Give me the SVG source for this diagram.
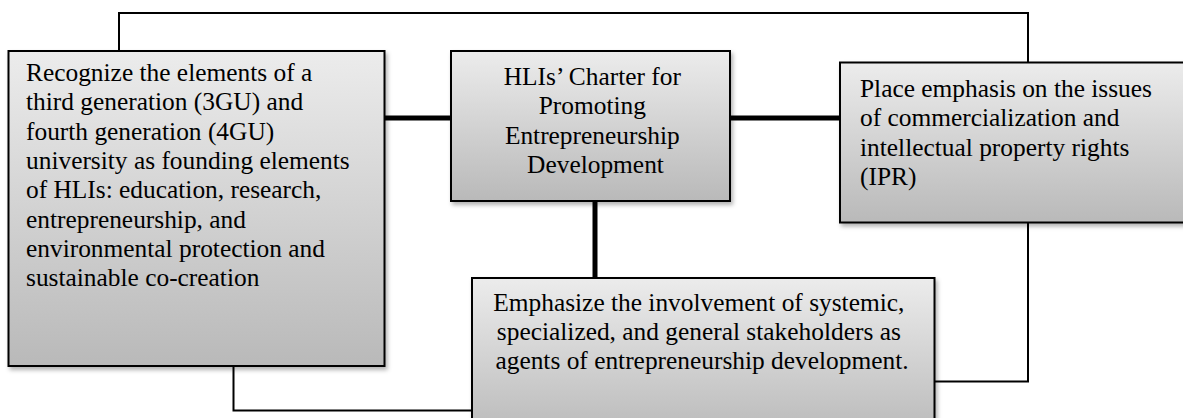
<svg xmlns="http://www.w3.org/2000/svg" width="1183" height="418" viewBox="0 0 1183 418">
<defs>
<linearGradient id="g" x1="0" y1="0" x2="0" y2="1">
<stop offset="0" stop-color="#ececec"/>
<stop offset="1" stop-color="#b9b9b9"/>
</linearGradient>
<filter id="sh" x="-10%" y="-10%" width="130%" height="130%">
<feDropShadow dx="2" dy="3" stdDeviation="2" flood-color="#000" flood-opacity="0.3"/>
</filter>
</defs>
<style>
.box{fill:url(#g);stroke:#000;stroke-width:2;filter:url(#sh)}
.t{font-family:"Liberation Serif","Times New Roman",serif;font-size:25.4px;fill:#000}
.c{text-anchor:middle}
.thin{fill:none;stroke:#000;stroke-width:2}
.thick{fill:none;stroke:#000;stroke-width:5}
</style>
<rect width="1183" height="418" fill="#fff"/>
<g id="connectors">
<path class="thin" d="M119,51 V13 H1028 V62"/>
<path class="thin" d="M233.5,366 V410.5 H472"/>
<path class="thin" d="M1028,223 V381.5 H934"/>
<path class="thick" d="M384,118 H451"/>
<path class="thick" d="M730,118 H840"/>
<path class="thick" d="M595,201 V278"/>
</g>
<g id="left">
<rect class="box" x="8.5" y="51" width="376" height="315"/>
<text class="t">
<tspan x="26" y="81">Recognize the elements of a</tspan>
<tspan x="26" y="110.3">third generation (3GU) and</tspan>
<tspan x="26" y="139.6">fourth generation (4GU)</tspan>
<tspan x="26" y="168.9">university as founding elements</tspan>
<tspan x="26" y="198.2">of HLIs: education, research,</tspan>
<tspan x="26" y="227.5">entrepreneurship, and</tspan>
<tspan x="26" y="256.8">environmental protection and</tspan>
<tspan x="26" y="286.1">sustainable co-creation</tspan>
</text>
</g>
<g id="center">
<rect class="box" x="451" y="51" width="279" height="150"/>
<text class="t c">
<tspan x="595.5" y="85">HLIs’ Charter for</tspan>
<tspan x="595.5" y="114.3">Promoting</tspan>
<tspan x="595.5" y="143.6">Entrepreneurship</tspan>
<tspan x="595.5" y="172.9">Development</tspan>
</text>
</g>
<g id="right">
<rect class="box" x="840" y="62.5" width="360" height="160"/>
<text class="t">
<tspan x="860" y="97">Place emphasis on the issues</tspan>
<tspan x="860" y="126.3">of commercialization and</tspan>
<tspan x="860" y="155.6">intellectual property rights</tspan>
<tspan x="860" y="184.9">(IPR)</tspan>
</text>
</g>
<g id="bottom">
<rect class="box" x="472" y="278" width="462.5" height="160"/>
<text class="t c">
<tspan x="702" y="311">Emphasize the involvement of systemic,</tspan>
<tspan x="702" y="340">specialized, and general stakeholders as</tspan>
<tspan x="702" y="369">agents of entrepreneurship development.</tspan>
</text>
</g>
</svg>
